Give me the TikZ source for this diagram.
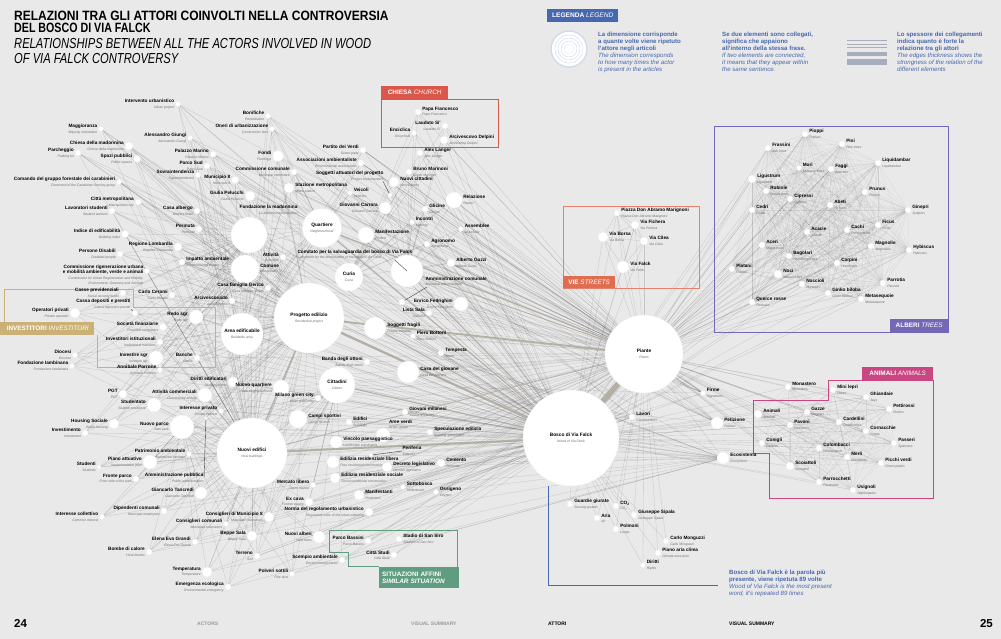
\documentclass[tikz,border=0pt]{standalone}
\usepackage{fontspec}
\setmainfont{Liberation Sans}
\pgfdeclarelayer{back}
\pgfdeclarelayer{edges}
\pgfsetlayers{back,edges,main}
\definecolor{bgc}{HTML}{E9E9E9}
\definecolor{subgray}{HTML}{707070}
\definecolor{chiesac}{HTML}{D9574B}
\definecolor{viec}{HTML}{DF6D4F}
\definecolor{alberic}{HTML}{7468B6}
\definecolor{animalic}{HTML}{C84781}
\definecolor{situac}{HTML}{5E9D80}
\definecolor{investc}{HTML}{CBB176}
\definecolor{legc}{HTML}{4767AF}
\definecolor{thk}{HTML}{B4AFA5}
\newcommand{\subf}{\fontsize{3.4}{4.2}\selectfont\itshape\color{subgray}}
\newcommand{\lab}[2]{\bfseries #1\\\subf #2}
\tikzset{
  actor/.style={circle, fill=white, draw=black!7, line width=0.3pt, minimum size=#1, inner sep=0pt},
  lableft/.style={align=right, inner sep=0.4pt, font=\fontsize{4.7}{5.4}\selectfont},
  labright/.style={align=left, inner sep=0.4pt, font=\fontsize{4.7}{5.4}\selectfont},
  labnorth east/.style={labright},
  labin/.style={align=center, font=\fontsize{4.8}{5.6}\selectfont},
  edge/.style={draw=black, line width=0.3pt, opacity=0.15},
  tredge/.style={draw=black, line width=0.25pt, opacity=0.08},
  strong/.style={draw=thk, line width=#1},
  leader/.style={draw=black!80, line width=0.35pt},
  boxlab/.style={inner sep=0pt, anchor=north west, text=white, font=\fontsize{6.4}{7}\selectfont},
  legtext/.style={inner sep=0pt, anchor=north west, align=left, text=legc, font=\fontsize{6.1}{7.1}\selectfont},
  foot/.style={inner sep=0pt, anchor=base west, font=\fontsize{5}{6}\selectfont\bfseries},
  titleline/.style={anchor=base west, inner sep=0, text height=9.6pt, text depth=0pt},
}
\newcommand{\A}[7]{\node[actor=#4pt, label={[lab#5]#5:{\lab{#6}{#7}}}] (#1) at (#2,#3) {};}
\newcommand{\B}[6]{\node[actor=#4pt, labin] (#1) at (#2,#3) {\lab{#5}{#6}};}
\newcommand{\C}[4]{\node[actor=#4pt] (#1) at (#2,#3) {};}
\def\leftlist{interv,bonif,oneri,maggi,giungi,chiesamad,parch,palazzo,spazi,parcosud,fondi,commcom,sovra,munic,comando,pelucchi,cittamet,lavstud,casaalb,fondaz,attivita,comune,indice,permuta,regione,disabili,impatto,commrig,casseprev,cerami,gerico,arcivesc,cassadep,operatori,redo,socfin,invist,investire,banche,diocesi,lambin,porrone,diritti,pgt,attcomm,studentato,intpriv,housing,nuovoparco,investim,nuovoquart,milanogreen,area,patrimonio,studenti,piano,fronte,ammpub,tancredi,dipend,intcoll,conscom,consmun,grandi,bombe,temperatura,emergenza,sala,terreno,polveri}
\def\midlist{quartiere,curia,manif,incontri,assemblee,agronomo,comitato,guzzi,ammcom,fedrighini,listasala,fragili,bottoni,tempesta,banda,casagiov,cittadini,campi,edifici,giovani,specul,areeverdi,vincolo,periferia,edlibera,decreto,cemento,edsociale,mercato,sottobosco,ossigeno,manifestanti,excava,norma,nuovialberi,scempio,bassini,sansiro,cittastudi,verdi,assoc,soggatt,nuovicitt,stazione,veicoli,carrara,relazione,glicine,langer,marinoni,papa,laudato,enciclica,delpini}
\def\rightlist{firme,lavori,petizione,ecosistema,guardie,co2,sipala,aria,polmoni,monguzzi,pianoaria,dirittiR,marignoni,fichera,borsa,cilea,viafalck}
\def\treelist{pioppi,pini,frassini,mori,faggi,liquid,ligustrum,robinie,cipressi,prunus,abeti,cedri,ginepri,acacie,cachi,ficus,aceri,magnolie,hybiscus,bagolari,carpini,platani,noci,noccioli,parrotia,ginko,metaseq,querce}
\def\animlist{monastero,lepri,ghiandaie,pettirossi,animali,gazze,pavoni,cardellini,cornacchie,conigli,passeri,colombacci,merli,picchi,scoiattoli,parrocchetti,usignoli}
\begin{document}
\begin{tikzpicture}[x=1pt,y=-1pt,label distance=0.5pt]
\useasboundingbox (0,0) rectangle (1001,639);
\begin{pgfonlayer}{back}
\fill[bgc] (0,0) rectangle (1001,639);
\end{pgfonlayer}

% ---------- title ----------
\node[titleline, font=\fontsize{13.5}{13.5}\selectfont\bfseries] (t1) at (14,20.2) {\scalebox{0.89}[1]{RELAZIONI TRA GLI ATTORI COINVOLTI NELLA CONTROVERSIA}};
\node[titleline, font=\fontsize{13.5}{13.5}\selectfont\bfseries] (t2) at (14,32.6) {\scalebox{0.79}[1]{DEL BOSCO DI VIA FALCK}};
\node[titleline, font=\fontsize{14.5}{14.5}\selectfont\itshape] (t3) at (14,48.3) {\scalebox{0.77}[1]{RELATIONSHIPS BETWEEN ALL THE ACTORS INVOLVED IN WOOD}};
\node[titleline, font=\fontsize{14.5}{14.5}\selectfont\itshape] (t4) at (14,63.3) {\scalebox{0.77}[1]{OF VIA FALCK CONTROVERSY}};

% ---------- legend ----------
\node[fill=legc, anchor=north west, minimum width=71pt, minimum height=13pt, inner sep=0, text=white, font=\fontsize{6.6}{7}\selectfont] (legt) at (547,9) {\bfseries LEGENDA \mdseries\itshape LEGEND};
\node[circle, fill=white, draw=legc!25, line width=1.4pt, minimum size=36pt, inner sep=0] (legcirc) at (569,49) {};
\foreach \r in {14,11,8} \draw[legc!22, line width=0.5pt] (legcirc.center) circle[radius=\r];
\node[circle, fill=white, draw=legc!15, line width=0.4pt, minimum size=10pt, inner sep=0] (legdot) at (569,49) {};
\node[legtext] (leg1) at (598,31.5) {\bfseries La dimensione corrisponde\\\bfseries a quante volte viene ripetuto\\\bfseries l'attore negli articoli\\\itshape The dimension corresponds\\\itshape to how many times the actor\\\itshape is present in the articles};
\node[legtext] (leg2) at (722,31.5) {\bfseries Se due elementi sono collegati,\\\bfseries significa che appaiono\\\bfseries all'interno della stessa frase.\\\itshape If two elements are connected,\\\itshape it means that they appear within\\\itshape the same sentence.};
\node[legtext] (leg3) at (897,31.5) {\bfseries Lo spessore dei collegamenti\\\bfseries indica quanto è forte la\\\bfseries relazione tra gli attori\\\itshape The edges thickness shows the\\\itshape strongness of the relation of the\\\itshape different elements};
\coordinate (lw1) at (847,40.7); \coordinate (le1) at (887,40.7);
\coordinate (lw2) at (847,44.2); \coordinate (le2) at (887,44.2);
\coordinate (lw3) at (847,47.8); \coordinate (le3) at (887,47.8);
\coordinate (lw4) at (847,54); \coordinate (le4) at (887,54);
\coordinate (lw5) at (847,62.3); \coordinate (le5) at (887,62.3);
\draw[legc!35!gray!60, line width=0.6pt] (lw1) -- (le1);
\draw[legc!35!gray!60, line width=0.6pt] (lw2) -- (le2);
\draw[legc!35!gray!60, line width=0.6pt] (lw3) -- (le3);
\draw[legc!35!gray!60, line width=4pt] (lw4) -- (le4);
\draw[legc!35!gray!60, line width=6pt] (lw5) -- (le5);

% ---------- group boxes ----------
\draw[chiesac, line width=0.7pt] (381,99) rectangle (498,147);
\node[fill=chiesac, boxlab, minimum width=67pt, minimum height=13pt, anchor=north west] (chiesalab) at (381,86) {\bfseries CHIESA \mdseries\itshape CHURCH};
\draw[viec!85, line width=0.7pt] (563,206) rectangle (699,288);
\node[fill=viec, boxlab, minimum width=52pt, minimum height=12pt] (vielab) at (563,276) {\bfseries VIE \mdseries\itshape STREETS};
\draw[alberic, line width=0.7pt] (714,126) rectangle (948,332);
\node[fill=alberic, boxlab, minimum width=58pt, minimum height=13pt] (alberilab) at (890,319) {\bfseries ALBERI \mdseries\itshape TREES};
\draw[animalic, line width=0.7pt] (828,380) -- (828,400) -- (753,400) -- (753,453) -- (769,453) -- (769,498) -- (933,498) -- (933,380) -- cycle;
\node[fill=animalic, boxlab, minimum width=71pt, minimum height=13pt] (animalilab) at (862,367) {\bfseries ANIMALI \mdseries\itshape ANIMALS};
\draw[investc, line width=0.7pt] (4,322) -- (4,289) -- (133,289) -- (133,307) -- (215,307) -- (215,367) -- (97,367) -- (97,335);
\node[fill=investc, boxlab, minimum width=94pt, minimum height=13pt] (investlab) at (0,322) {\bfseries \,INVESTITORI \mdseries\itshape INVESTITORI};
\draw[situac, line width=0.7pt] (379,566) -- (348,566) -- (348,552) -- (329,552) -- (329,530) -- (457,530) -- (457,567);
\node[fill=situac, boxlab, minimum width=78pt, minimum height=21pt, align=left, text width=74pt, inner xsep=3pt] (situalab) at (379,567) {\bfseries SITUAZIONI AFFINI\\\itshape SIMILAR SITUATION};

% ---------- left cluster ----------
\A{interv}{178}{104}{5}{left}{Intervento urbanistico}{Urban project}
\A{bonif}{268}{116}{5}{left}{Bonifiche}{Remediation}
\A{oneri}{272}{129}{5}{left}{Oneri di urbanizzazione}{Construction fees}
\A{maggi}{101}{129}{5}{left}{Maggioranza}{Majority orientation}
\A{giungi}{190}{138}{5}{left}{Alessandro Giungi}{Alessandro Giungi}
\A{chiesamad}{129}{146}{8}{left}{Chiesa della madonnina}{Chiesa della madonnina}
\A{parch}{78}{153}{6}{left}{Parcheggio}{Parking lot}
\A{palazzo}{213}{154}{6}{left}{Palazzo Marino}{Palazzo Marino}
\A{spazi}{137}{159}{7}{left}{Spazi pubblici}{Public spaces}
\A{parcosud}{207}{166}{6}{left}{Parco Sud}{Parco Sud}
\A{fondi}{278}{156}{11}{left}{Fondi}{Fundings}
\A{commcom}{294}{172}{6}{left}{Commissione comunale}{Municipal committee}
\A{sovra}{198}{175}{5}{left}{Sovraintendenza}{Superintendence}
\A{munic}{235}{180}{7}{left}{Municipio 8}{Municipio 8}
\A{comando}{119}{182}{5}{left}{Comando del gruppo forestale dei carabinieri}{Command of the Carabinieri forestry group}
\A{pelucchi}{250}{196}{10}{left}{Giulia Pelucchi}{Giulia Pelucchi}
\A{cittamet}{138}{202}{6}{left}{Città metropolitana}{Metropolitan city}
\A{lavstud}{112}{211}{6}{left}{Lavoratori studenti}{Student workers}
\A{casaalb}{197}{211}{6}{left}{Casa albergo}{Welfare hotel}
\C{fondaz}{249}{235}{36}
\node[lableft, anchor=east] (fondazlab) at (298,210) {\lab{Fondazione la madonnina}{La Madonnina foundation}};
\A{attivita}{283}{257}{6}{left}{Attività}{Activities}
\A{comune}{245}{269}{28}{right}{Comune}{Municipality}
\A{indice}{125}{234}{7}{left}{Indice di edificabilità}{Building index}
\A{permuta}{199}{229}{6}{left}{Permuta}{Permute}
\A{regione}{178}{247}{8}{left}{Regione Lombardia}{Regione Lombardia}
\A{disabili}{120}{254}{6}{left}{Persone Disabili}{Disabled people}
\A{impatto}{182}{262}{6}{right}{Impatto ambientale}{Environmental impact}
\C{commrig}{147}{271}{5}
\node[lableft, anchor=east] (commriglab) at (144,275) {\bfseries Commissione rigenerazione urbana\\\bfseries e mobilità ambiente, verde e animali\\\subf Commission for Urban Regeneration and Mobility,\\\subf Environment, Greenery and Animals};
\A{casseprev}{123}{293}{6}{left}{Casse previdenziali}{Social security funds}
\A{cerami}{172}{295}{6}{left}{Carlo Cerami}{Carlo Cerami}
\A{gerico}{268}{288}{6}{left}{Casa famiglia Gerico}{Casa famiglia Gerico}
\A{arcivesc}{232}{301}{6}{left}{Arcivescovado}{Archbishopric}
\C{cassadep}{135}{313}{6}
\node[lableft, anchor=east] (cassadeplab) at (131,304) {\lab{Cassa depositi e prestiti}{Cassa depositi e prestiti}};
\A{operatori}{75}{313}{10}{left}{Operatori privati}{Private operator}
\A{redo}{196}{317}{14}{left}{Redo sgr}{Redo sgr}
\A{socfin}{163}{327}{7}{left}{Società finanziarie}{Financial companies}
\A{invist}{160}{342}{6}{left}{Investitori istituzionali}{Institutional investors}
\A{investire}{156}{358}{14}{left}{Investire sgr}{Investire sgr}
\A{banche}{197}{358}{6}{left}{Banche}{Banks}
\A{diocesi}{75}{355}{5}{left}{Diocesi}{Diocese}
\A{lambin}{72}{366}{5}{left}{Fondazione Iambinana}{Fondazione Iambinana}
\A{porrone}{160}{370}{5}{left}{Annibale Porrone}{Annibale Porrone}
\A{diritti}{233}{382}{10}{left}{Diritti edificatori}{Building rights}
\A{pgt}{123}{394}{8}{left}{PGT}{PGT}
\A{attcomm}{205}{395}{14}{left}{Attività commerciali}{Commercial activity}
\A{studentato}{154}{405}{14}{left}{Studentato}{Student residence}
\A{intpriv}{221}{411}{5}{left}{Interesse privato}{Private interest}
\A{housing}{114}{424}{10}{left}{Housing Sociale}{Social housing}
\A{nuovoparco}{182}{427}{24}{left}{Nuovo parco}{New park}
\A{investim}{85}{433}{6}{left}{Investimento}{Investment}
\A{nuovoquart}{281}{388}{16}{left}{Nuovo quartiere}{New neighbourhood}
\A{milanogreen}{318}{398}{6}{left}{Milano green city}{Milan green city}
\B{area}{242}{334}{42}{Area edificabile}{Buildable area}
\A{patrimonio}{189}{454}{5}{left}{Patrimonio ambientale}{Environmental heritage}
\A{studenti}{99}{467}{4}{left}{Studenti}{Students}
\A{piano}{150}{462}{14}{left}{Piano attuativo}{Implementation plan}
\A{fronte}{136}{479}{6}{left}{Fronte parco}{Front side of the park}
\C{ammpub}{206}{418}{3}
\node[lableft, anchor=east] (ammpublab) at (204,478) {\lab{Amministrazione pubblica}{Public administration}};
\A{tancredi}{201}{493}{12}{left}{Giancarlo Tancredi}{Giancarlo Tancredi}
\A{dipend}{164}{511}{6}{left}{Dipendenti comunali}{Municipal employees}
\A{intcoll}{102}{517}{5}{left}{Interesse collettivo}{Common interest}
\A{conscom}{226}{524}{5}{left}{Consiglieri comunali}{Municipal counselors}
\A{consmun}{269}{517}{10}{left}{Consiglieri di Municipio 8}{Municipal counselors}
\A{grandi}{195}{542}{6}{left}{Elena Eva Grandi}{Elena Eva Grandi}
\A{bombe}{149}{552}{6}{left}{Bombe di calore}{Heat bombs}
\A{temperatura}{207}{572}{10}{left}{Temperatura}{Temperature}
\A{emergenza}{228}{587}{6}{left}{Emergenza ecologica}{Environmental emergency}
\A{sala}{252}{536}{10}{left}{Beppe Sala}{Beppe Sala}
\A{terreno}{257}{556}{6}{left}{Terreno}{Soil}
\A{polveri}{292}{574}{5}{left}{Polveri sottili}{Fine dust}

% ---------- middle ----------
\B{progetto}{309}{318}{70}{Progetto edilizio}{Residential project}
\B{quartiere}{322}{228}{39}{Quartiere}{Neighbourhood}
\B{curia}{349}{277}{28}{Curia}{Curia}
\B{cittadini}{337}{385}{36}{Cittadini}{Citizen}
\B{nuoviedifici}{252}{453}{70}{Nuovi edifici}{New buildings}
\A{manif}{366}{235}{16}{right}{Manifestazione}{Protest}
\A{incontri}{412}{222}{5}{right}{Incontri}{Meeting}
\A{assemblee}{461}{229}{5}{right}{Assemblee}{Assembly}
\A{agronomo}{427}{244}{6}{right}{Agronomo}{Agronomist}
\C{comitato}{407}{271}{32}
\node[lableft, anchor=south west, align=left] (comitatolab) at (297,260) {\lab{Comitato per la salvaguardia del bosco di Via Falck}{Committee for the preservation of the wood of Via Falck}};
\A{guzzi}{451}{263}{8}{right}{Alberto Guzzi}{Alberto Guzzi}
\C{ammcom}{402}{302}{6}
\node[labright, anchor=south west] (ammcomlab) at (425,287) {\lab{Amministrazione comunale}{Municipal administration}};
\A{fedrighini}{461}{304}{14}{left}{Enrico Fedrighini}{Enrico Fedrighini}
\A{listasala}{429}{313}{6}{left}{Lista Sala}{Sala list}
\A{fragili}{375}{328}{22}{right}{Soggetti fragili}{Fragile subjects}
\A{bottoni}{413}{336}{5}{right}{Piero Bottoni}{Piero Bottoni}
\A{tempesta}{441}{353}{6}{right}{Tempesta}{Storm}
\A{banda}{367}{362}{6}{left}{Banda degli ottoni}{Banda degli ottoni}
\A{casagiov}{408}{372}{22}{right}{Casa del giovane}{Casa del giovane}
\A{campi}{298}{419}{18}{right}{Campi sportivi}{Campi sportivi}
\A{edifici}{349}{422}{6}{right}{Edifici}{Buildings}
\A{giovani}{405}{412}{6}{right}{Giovani milanesi}{Young of the city}
\A{specul}{430}{432}{6}{right}{Speculazione edilizia}{Building speculation}
\A{areeverdi}{383}{435}{14}{north east}{Aree verdi}{Green areas}
\A{vincolo}{336}{442}{12}{right}{Vincolo paesaggistico}{Landscape constraints}
\C{periferia}{371}{455}{4}
\node[labright, anchor=west] (periferialab) at (402,451) {\lab{Periferia}{Suburbs}};
\A{edlibera}{333}{462}{12}{right}{Edilizia residenziale libera}{Free residential construction}
\A{decreto}{387}{467}{10}{right}{Decreto legislativo}{Decreto legislativo}
\A{cemento}{441}{463}{8}{right}{Cemento}{Concrete}
\A{edsociale}{335}{478}{10}{right}{Edilizia residenziale sociale}{Social residential construction}
\A{mercato}{313}{485}{5}{left}{Mercato libero}{Open market}
\A{sottobosco}{403}{487}{5}{right}{Sottobosco}{Underbrush}
\A{ossigeno}{436}{492}{5}{right}{Ossigeno}{Oxygen}
\A{manifestanti}{359}{495}{10}{right}{Manifestanti}{Protesters}
\A{excava}{309}{502}{8}{left}{Ex cava}{Former quarry}
\A{norma}{369}{512}{8}{left}{Norma del regolamento urbanistico}{Regulation rules of the urban planning}
\A{nuovialberi}{319}{537}{12}{left}{Nuovi alberi}{New trees}
\A{scempio}{342}{560}{6}{left}{Scempio ambientale}{Environmental havoc}
\A{bassini}{368}{541}{6}{left}{Parco Bassini}{Parco Bassini}
\A{sansiro}{399}{539}{6}{right}{Stadio di San Siro}{Stadium of San Siro}
\A{cittastudi}{394}{555}{6}{left}{Città Studi}{Città Studi}
\A{verdi}{363}{150}{6}{left}{Partito dei Verdi}{Green party}
\A{assoc}{361}{163}{6}{left}{Associazioni ambientaliste}{Environmental associations}
\C{soggatt}{390}{195}{4}
\node[lableft, anchor=east] (soggattlab) at (384,176) {\lab{Soggetti attuatori del progetto}{Project implementers}};
\A{nuovicitt}{394}{182}{10}{right}{Nuovi cittadini}{New citizens}
\A{stazione}{289}{188}{10}{right}{Stazione metropolitana}{Metro station}
\A{veicoli}{350}{193}{5}{right}{Veicoli}{Vehicles}
\A{carrara}{385}{208}{12}{left}{Giovanni Carrara}{Giovanni Carrara}
\A{relazione}{454}{200}{16}{right}{Relazione}{Report}
\A{glicine}{425}{209}{6}{right}{Glicine}{Glicine}
\A{langer}{420}{153}{6}{right}{Alex Langer}{Alex Langer}
\A{marinoni}{409}{172}{6}{right}{Bruno Marinoni}{Bruno Marinoni}
\A{papa}{418}{112}{6}{right}{Papa Francesco}{Pope Francesco}
\A{laudato}{445}{126}{6}{left}{Laudato Si'}{Laudato Si'}
\A{enciclica}{414}{133}{5}{left}{Enciclica}{Encyclical}
\A{delpini}{444}{140}{8}{right}{Arcivescovo Delpini}{Archbishop Delpini}

% ---------- right ----------
\B{bosco}{571}{438}{96}{Bosco di Via Falck}{Wood of Via Falck}
\B{piante}{644}{354}{78}{Piante}{Plants}
\A{firme}{703}{393}{5}{right}{Firme}{Signatures}
\A{lavori}{632}{417}{6}{right}{Lavori}{Constructions}
\A{petizione}{717}{423}{12}{right}{Petizione}{Petition}
\A{ecosistema}{723}{458}{12}{right}{Ecosistema}{Ecosystem}
\A{guardie}{570}{504}{6}{right}{Guardie giurate}{Security guards}
\A{co2}{616}{506}{6}{right}{CO\textsubscript{2}}{CO\textsubscript{2}}
\A{sipala}{634}{515}{6}{right}{Giuseppe Sipala}{Giuseppe Sipala}
\A{aria}{597}{518}{6}{right}{Aria}{Air}
\A{polmoni}{616}{529}{6}{right}{Polmoni}{Lungs}
\A{monguzzi}{666}{541}{6}{right}{Carlo Monguzzi}{Carlo Monguzzi}
\A{pianoaria}{658}{553}{6}{right}{Piano aria clima}{Climate area plan}
\A{dirittiR}{643}{565}{5}{right}{Diritti}{Rights}
\A{marignoni}{617}{213}{6}{right}{Piazza Don Abramo Marignoni}{Piazza Don Abramo Marignoni}
\A{fichera}{635}{225}{8}{right}{Via Fichera}{Via Fichera}
\A{borsa}{603}{237}{10}{right}{Via Borsa}{Via Borsa}
\A{cilea}{644}{241}{8}{right}{Via Cilea}{Via Cilea}
\A{viafalck}{623}{267}{12}{right}{Via Falck}{Via Falck}

% trees
\A{pioppi}{805}{134}{6}{right}{Pioppi}{Poplars}
\A{pini}{842}{144}{6}{right}{Pini}{Pine trees}
\A{frassini}{768}{148}{6}{right}{Frassini}{Ash trees}
\A{mori}{799}{168}{5}{right}{Mori}{Mulberry trees}
\A{faggi}{831}{169}{6}{right}{Faggi}{Beeches}
\A{liquid}{878}{163}{6}{right}{Liquidambar}{Liquidambar}
\A{ligustrum}{752}{179}{8}{right}{Ligustrum}{Ligustrum}
\A{robinie}{766}{191}{6}{right}{Robinie}{Locust trees}
\A{cipressi}{790}{199}{6}{right}{Cipressi}{Cypress}
\A{prunus}{865}{192}{6}{right}{Prunus}{Prunus}
\A{abeti}{830}{205}{6}{right}{Abeti}{Fir trees}
\A{cedri}{752}{210}{6}{right}{Cedri}{Cedar}
\A{ginepri}{908}{210}{6}{right}{Ginepri}{Junipers}
\A{acacie}{807}{232}{6}{right}{Acacie}{Acacie}
\A{cachi}{847}{230}{6}{right}{Cachi}{Persimmons}
\A{ficus}{878}{225}{6}{right}{Ficus}{Ficus}
\A{aceri}{762}{245}{6}{right}{Aceri}{Maple trees}
\A{magnolie}{871}{246}{6}{right}{Magnolie}{Magnolias}
\A{hybiscus}{909}{250}{6}{right}{Hybiscus}{Hybiscus}
\A{bagolari}{789}{256}{6}{right}{Bagolari}{Hackberry trees}
\A{carpini}{837}{263}{6}{right}{Carpini}{Hornbeam}
\A{platani}{732}{269}{6}{right}{Platani}{Platani}
\A{noci}{778}{274}{8}{right}{Noci}{Walnut trees}
\A{noccioli}{802}{284}{6}{right}{Noccioli}{Nut trees}
\A{parrotia}{883}{283}{6}{right}{Parrotia}{Parrotia}
\A{ginko}{828}{293}{6}{right}{Ginko biloba}{Ginko bilobus}
\A{metaseq}{861}{299}{6}{right}{Metasequoie}{Metasequoie}
\A{querce}{752}{302}{6}{right}{Querce rosse}{Redoaks}

% animals
\A{monastero}{788}{387}{6}{right}{Monastero}{Monastery}
\A{lepri}{833}{390}{6}{right}{Mini lepri}{Hares}
\A{ghiandaie}{866}{397}{6}{right}{Ghiandaie}{Jays}
\A{pettirossi}{889}{409}{6}{right}{Pettirossi}{Robins}
\A{animali}{758}{414}{8}{right}{Animali}{Animals}
\A{gazze}{807}{412}{6}{right}{Gazze}{Magpies}
\A{pavoni}{790}{425}{6}{right}{Pavoni}{Peacocks}
\A{cardellini}{839}{422}{6}{right}{Cardellini}{Goldfinches}
\A{cornacchie}{866}{431}{6}{right}{Cornacchie}{Crows}
\A{conigli}{762}{443}{6}{right}{Conigli}{Rabbits}
\A{passeri}{894}{443}{6}{right}{Passeri}{Sparrows}
\A{colombacci}{819}{448}{6}{right}{Colombacci}{Woodpigeon}
\A{merli}{847}{457}{6}{right}{Merli}{Blackbirds}
\A{picchi}{881}{463}{6}{right}{Picchi verdi}{Green peaks}
\A{scoiattoli}{790}{466}{8}{right}{Scoiattoli}{Scoiattoli}
\A{parrocchetti}{819}{482}{6}{right}{Parrocchetti}{Parakeets}
\A{usignoli}{853}{490}{6}{right}{Usignoli}{Nightingales}

% ---------- leaders ----------
\draw[leader] ([xshift=-18pt]comitatolab.south east) -- (comitato.center);
\draw[leader] (cassadeplab.south east) -- (cassadep);
\draw[leader] ([xshift=2pt]ammcomlab.south west) -- (ammcom);
\draw[leader] ([xshift=-1pt]soggattlab.south east) -- (soggatt);
\draw[leader] (periferialab.west) -- (periferia);
\draw[leader] (ammpublab.east) -- (ammpub);

% ---------- bosco note ----------
\coordinate (blc) at (548,585);
\coordinate (ble) at (718,585);
\draw[legc, line width=0.8pt] (bosco.south -| blc) -- (blc) -- (ble);
\node[legtext] (boscotxt) at (729,569.5) {\bfseries Bosco di Via Falck è la parola più\\\bfseries presente, viene ripetuta 89 volte\\\itshape Wood of Via Falck is the most present\\\itshape word, it's repeated 89 times};

% ---------- footer ----------
\node[foot, font=\fontsize{11.5}{12}\selectfont\bfseries] (p24) at (14,627) {24};
\node[foot, font=\fontsize{11.5}{12}\selectfont\bfseries, anchor=base east] (p25) at (993,627) {25};
\node[foot, text=black!40] (f1) at (197,625.5) {ACTORS};
\node[foot, text=black!40] (f2) at (411,625.5) {VISUAL SUMMARY};
\node[foot] (f3) at (548,625.5) {ATTORI};
\node[foot] (f4) at (729,625.5) {VISUAL SUMMARY};

% ---------- edges ----------
\begin{pgfonlayer}{edges}
\foreach \a in \leftlist {\draw[edge] (\a) -- (bosco); \draw[edge] (\a) -- (progetto); \draw[edge] (\a) -- (nuoviedifici);}
\foreach \a in \midlist {\draw[edge] (\a) -- (bosco); \draw[edge] (\a) -- (piante);}
\foreach \a in \rightlist {\draw[edge] (\a) -- (bosco); \draw[edge] (\a) -- (piante);}
\foreach \a in {interv,bonif,oneri,giungi,palazzo,parcosud,fondi,commcom,munic,pelucchi,casaalb,permuta,regione,impatto,gerico,arcivesc,redo,banche,diritti,attcomm,intpriv,stazione,veicoli,verdi,assoc} {\draw[edge] (\a) -- (quartiere); \draw[edge] (\a) -- (area); \draw[edge] (\a) -- (piante);}
\foreach \a in {maggi,chiesamad,spazi,parch,comando,cittamet,lavstud,indice,disabili,commrig,casseprev,operatori,socfin,invist,investire,diocesi,lambin,porrone,pgt,studentato,housing,investim} {\draw[edge] (\a) -- (fondaz); \draw[edge] (\a) -- (comune);}
\foreach \a in {tancredi,dipend,intcoll,conscom,consmun,grandi,bombe,temperatura,emergenza,sala,terreno,polveri,nuovialberi,excava,mercato,scempio,piano,fronte,studenti} {\draw[edge] (\a) -- (cittadini); \draw[edge] (\a) -- (nuovoparco);}
\foreach \a in {papa,laudato,enciclica,delpini,langer,marinoni,nuovicitt,carrara,relazione,glicine,incontri,assemblee,agronomo,guzzi} {\draw[edge] (\a) -- (comitato); \draw[edge] (\a) -- (curia);}
\foreach \a in {temperatura,bombe,emergenza,polveri,scempio,ossigeno,sottobosco,cemento,decreto,areeverdi,specul,giovani,casagiov,tempesta,fragili,cittadini,nuovoparco,patrimonio,impatto,comitato} {\draw[edge] (\a) -- (ecosistema);}
\foreach \a in {comitato,manif,manifestanti,assoc,verdi,fedrighini,guzzi,relazione,cittadini,quartiere} {\draw[edge] (\a) -- (petizione); \draw[edge] (\a) -- (firme);}
\foreach \a in {progetto,nuoviedifici,area,nuovoquart,campi,edifici,excava,terreno,bonif,oneri} {\draw[edge] (\a) -- (lavori);}
\foreach \a [count=\i] in \treelist {\draw[edge] (\a) -- (piante); \ifodd\i \draw[edge] (\a) -- (bosco);\fi
  \foreach \b [count=\j] in \treelist {\ifnum\j>\i\relax \draw[tredge] (\a) -- (\b);\fi}}
\foreach \a [count=\i] in \animlist {\draw[edge] (\a) -- (bosco); \draw[edge] (\a) -- (piante);
  \foreach \b [count=\j] in \animlist {\ifnum\j>\i\relax \draw[tredge] (\a) -- (\b);\fi}}
\foreach \a [count=\i] in {marignoni,fichera,borsa,cilea,viafalck} {\foreach \b [count=\j] in {marignoni,fichera,borsa,cilea,viafalck} {\ifnum\j>\i\relax \draw[edge] (\a) -- (\b);\fi}}
\draw[strong=5.5pt] (bosco) -- (piante);
\draw[strong=2.2pt] (bosco) -- (progetto);
\draw[strong=1.8pt] (piante) -- (progetto);
\draw[strong=2pt] (bosco) -- (nuoviedifici);
\draw[strong=1.2pt] (progetto) -- (nuoviedifici);
\draw[strong=1pt] (bosco) -- (quartiere);
\draw[strong=1.2pt] (piante) -- (quartiere);
\draw[strong=1pt] (bosco) -- (cittadini);
\draw[strong=1pt] (bosco) -- (comitato);
\draw[strong=1pt] (progetto) -- (area);
\draw[strong=0.8pt] (piante) -- (comitato);
\draw[strong=0.8pt] (bosco) -- (fragili);
\draw[strong=0.8pt] (piante) -- (nuoviedifici);
\end{pgfonlayer}
\end{tikzpicture}
\end{document}
